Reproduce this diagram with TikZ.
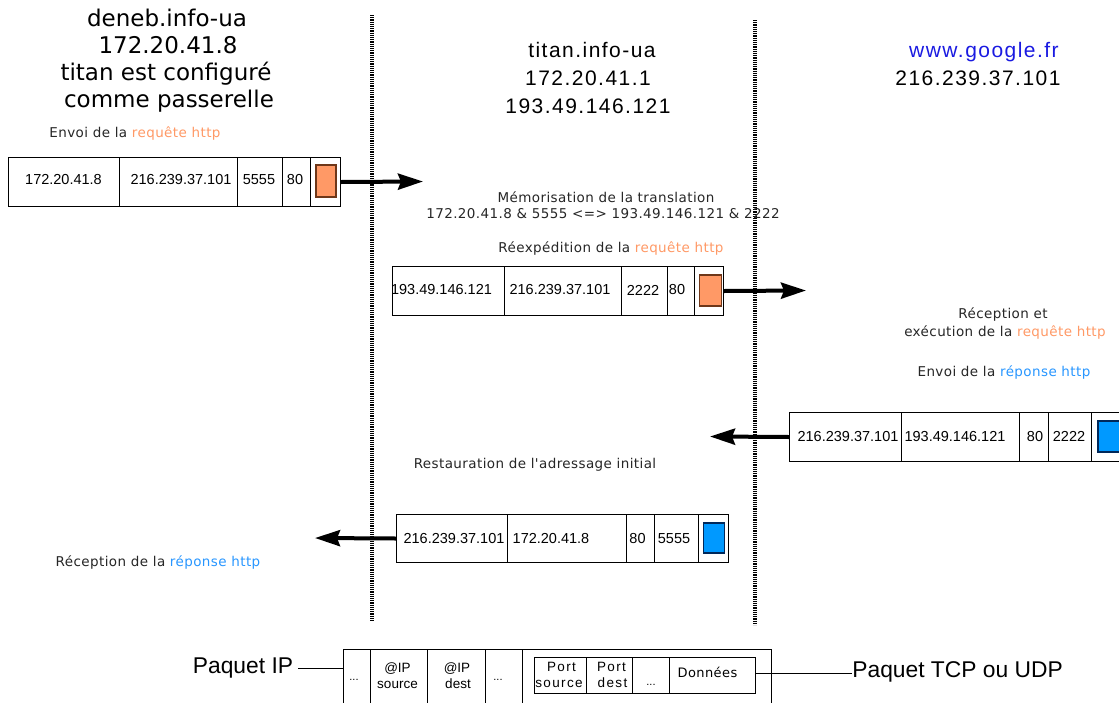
\documentclass[tikz,border=0pt]{standalone}
\usepackage{fontspec}
\setmainfont{DejaVu Sans}
\newfontfamily\fdjv{DejaVu Sans}
\newfontfamily\fdjw[LetterSpace=3]{DejaVu Sans}
\newfontfamily\flib{Liberation Sans}
\newfontfamily\flibw[LetterSpace=7]{Liberation Sans}
\newfontfamily\flibx[LetterSpace=10]{Liberation Sans}
\usetikzlibrary{arrows.meta}
\definecolor{reqfill}{RGB}{255,153,102}
\definecolor{reqdraw}{RGB}{110,55,25}
\definecolor{reqtxt}{RGB}{255,153,102}
\definecolor{repfill}{RGB}{0,153,255}
\definecolor{repdraw}{RGB}{0,40,90}
\definecolor{reptxt}{RGB}{40,150,255}
\definecolor{gblue}{RGB}{26,26,225}
\tikzset{
  cell/.style={draw=black, line width=0.5pt, inner sep=0pt, anchor=north west, fill=white},
  reqbox/.style={draw=reqdraw, fill=reqfill, line width=0.6pt, inner sep=0pt},
  repbox/.style={draw=repdraw, fill=repfill, line width=0.6pt, inner sep=0pt},
  hdr/.style={font=\fdjv\fontsize{11.5}{13}\selectfont, anchor=base, inner sep=0pt},
  hdrb/.style={font=\flibw\fontsize{10.5}{13}\selectfont, anchor=base, inner sep=0pt},
  sm/.style={font=\fdjw\fontsize{6.75}{8}\selectfont, anchor=base, inner sep=0pt, text=black!85},
  pk/.style={font=\flib\fontsize{7.25}{8}\selectfont, inner sep=0pt},
  fld/.style={font=\flib\fontsize{6.75}{7}\selectfont, anchor=base, inner sep=0pt},
  fldw/.style={font=\flibx\fontsize{6.75}{7}\selectfont, anchor=base, inner sep=0pt},
  dots/.style={font=\flib\fontsize{5.5}{6}\selectfont, anchor=base, inner sep=0pt},
  big/.style={font=\flib\fontsize{11.4}{13}\selectfont, anchor=base, inner sep=0pt},
  flow/.style={line width=2pt, -{Stealth[length=12.5pt, width=8pt, inset=1.5pt]}},
  sep/.style={line width=2pt, dash pattern=on 0.6pt off 0.5pt},
  tie/.style={line width=0.5pt},
}
\begin{document}
\begin{tikzpicture}[x=0.5pt, y=-0.5pt]
\path[use as bounding box] (0,0) rectangle (1119,702);
\clip (0,0) rectangle (1119,702);

% separators
\coordinate (d1t) at (372,15);  \coordinate (d1b) at (372,622);
\coordinate (d2t) at (755,20);  \coordinate (d2b) at (755,625);
\draw[sep] (d1t) -- (d1b);
\draw[sep] (d2t) -- (d2b);

% headers
\node[hdr] (h1) at (167,26.7) {deneb.info-ua};
\node[hdr] (h2) at (168,53) {172.20.41.8};
\node[hdr] (h3) at (166,80) {titan est configuré};
\node[hdr] (h4) at (169,107) {comme passerelle};

\node[hdrb] (h5) at (592,57) {titan.info-ua};
\node[hdrb] (h6) at (588,85) {172.20.41.1};
\node[hdrb] (h7) at (588,113) {193.49.146.121};

\node[hdrb, text=gblue] (h8) at (984,57) {www.google.fr};
\node[hdrb] (h9) at (978,85) {216.239.37.101};

% small captions
\node[sm] (c1) at (135,137) {Envoi de la \textcolor{reqtxt}{requête http}};
\node[sm] (c2) at (606,202) {Mémorisation de la translation};
\node[sm] (c3) at (603,218) {172.20.41.8 \& 5555 <=> 193.49.146.121 \& 2222};
\node[sm] (c4) at (611,252) {Réexpédition de la \textcolor{reqtxt}{requête http}};
\node[sm] (c5) at (1003,318) {Réception et};
\node[sm] (c6) at (1005,336) {exécution de la \textcolor{reqtxt}{requête http}};
\node[sm] (c7) at (1004,376) {Envoi de la \textcolor{reptxt}{réponse http}};
\node[sm] (c8) at (535,468) {Restauration de l'adressage initial};
\node[sm] (c9) at (158,566) {Réception de la \textcolor{reptxt}{réponse http}};

% packet 1
\node[cell, minimum width=55.5pt, minimum height=24.5pt] (p1a) at (8,157) {};
\node[cell, minimum width=59pt, minimum height=24.5pt] (p1b) at (119,157) {};
\node[cell, minimum width=22.5pt, minimum height=24.5pt] (p1c) at (237,157) {};
\node[cell, minimum width=14pt, minimum height=24.5pt] (p1d) at (282,157) {};
\node[cell, minimum width=15pt, minimum height=24.5pt] (p1e) at (310,157) {};
\node[reqbox, minimum width=10pt, minimum height=16pt] (r1) at (326,181) {};
\node[pk] (t1a) at (63.5,180) {172.20.41.8};
\node[pk] (t1b) at (181,180) {216.239.37.101};
\node[pk] (t1c) at (259,180) {5555};
\node[pk] (t1d) at (295,180) {80};
\coordinate (a1) at (423,181.5);
\draw[flow] (p1e.east) -- (a1);

% packet 2
\node[cell, minimum width=56pt, minimum height=24.5pt] (p2a) at (392,266) {};
\node[cell, minimum width=58.5pt, minimum height=24.5pt] (p2b) at (504,266) {};
\node[cell, minimum width=23pt, minimum height=24.5pt] (p2c) at (621,266) {};
\node[cell, minimum width=13.5pt, minimum height=24.5pt] (p2d) at (667,266) {};
\node[cell, minimum width=14.5pt, minimum height=24.5pt] (p2e) at (694,266) {};
\node[reqbox, minimum width=11pt, minimum height=15.5pt] (r2) at (710.5,290.5) {};
\node[pk] (t2a) at (441.5,290) {193.49.146.121};
\node[pk] (t2b) at (560,290) {216.239.37.101};
\node[pk] (t2c) at (643,290) {2222};
\node[pk] (t2d) at (677,290) {80};
\coordinate (a2) at (806,290.5);
\draw[flow] (p2e.east) -- (a2);

% packet 3
\node[cell, minimum width=56pt, minimum height=24.5pt] (p3a) at (789,412) {};
\node[cell, minimum width=59pt, minimum height=24.5pt] (p3b) at (901,412) {};
\node[cell, minimum width=14.5pt, minimum height=24.5pt] (p3c) at (1019,412) {};
\node[cell, minimum width=21.5pt, minimum height=24.5pt] (p3d) at (1048,412) {};
\node[cell, minimum width=20pt, minimum height=24.5pt] (p3e) at (1091,412) {};
\node[repbox, minimum width=11pt, minimum height=15.5pt] (r3) at (1109,436.5) {};
\node[pk] (t3a) at (848,436.5) {216.239.37.101};
\node[pk] (t3b) at (955,436.5) {193.49.146.121};
\node[pk] (t3c) at (1035,436.5) {80};
\node[pk] (t3d) at (1069,436.5) {2222};
\coordinate (a3) at (710,436.5);
\draw[flow] (p3a.west) -- (a3);

% packet 4
\node[cell, minimum width=55.5pt, minimum height=24pt] (p4a) at (396,514) {};
\node[cell, minimum width=59.5pt, minimum height=24pt] (p4b) at (507,514) {};
\node[cell, minimum width=14pt, minimum height=24pt] (p4c) at (626,514) {};
\node[cell, minimum width=22pt, minimum height=24pt] (p4d) at (654,514) {};
\node[cell, minimum width=15pt, minimum height=24pt] (p4e) at (698,514) {};
\node[repbox, minimum width=10.5pt, minimum height=15pt] (r4) at (714,538) {};
\node[pk] (t4a) at (454,538.5) {216.239.37.101};
\node[pk] (t4b) at (551,538.5) {172.20.41.8};
\node[pk] (t4c) at (637.5,538.5) {80};
\node[pk] (t4d) at (674,538.5) {5555};
\coordinate (a4) at (315,538);
\draw[flow] (p4a.west) -- (a4);

% packet structure legend
\node[cell, minimum width=13.5pt, minimum height=40pt] (b1) at (343,649) {};
\node[cell, minimum width=28.5pt, minimum height=40pt] (b2) at (370,649) {};
\node[cell, minimum width=29pt, minimum height=40pt] (b3) at (427,649) {};
\node[cell, minimum width=18.5pt, minimum height=40pt] (b4) at (485,649) {};
\node[cell, minimum width=124.5pt, minimum height=40pt] (b5) at (522,649) {};
\node[cell, minimum width=26pt, minimum height=18pt] (i1) at (534,657) {};
\node[cell, minimum width=23pt, minimum height=18pt] (i2) at (586,657) {};
\node[cell, minimum width=18.5pt, minimum height=18pt] (i3) at (632,657) {};
\node[cell, minimum width=43pt, minimum height=18pt] (i4) at (669,657) {};

\node[dots] (e1) at (354,680) {...};
\node[fld] (f1) at (397.5,672) {@IP};
\node[fld] (f2) at (397.5,688) {source};
\node[fld] (f3) at (457,672) {@IP};
\node[fld] (f4) at (458,688) {dest};
\node[dots] (e2) at (498,680) {...};
\node[fldw] (f5) at (561.5,671) {Port};
\node[fldw] (f6) at (559,687) {source};
\node[fldw] (f7) at (611.5,671) {Port};
\node[fldw] (f8) at (612.5,687) {dest};
\node[dots] (e3) at (651,685) {...};
\node[font=\fdjw\fontsize{6.5}{7}\selectfont, anchor=base, inner sep=0pt] (f9) at (707.5,677) {Données};

\node[big] (lip) at (243,673) {Paquet IP};
\node[big, anchor=base west] (ltcp) at (852,677) {Paquet TCP ou UDP};
\coordinate (ipl) at (298,668);
\draw[tie] (ipl) -- (ipl -| b1.west);
\draw[tie] ([yshift=1pt]i4.east) -- ([yshift=1pt]i4.east -| ltcp.west);
\end{tikzpicture}
\end{document}
